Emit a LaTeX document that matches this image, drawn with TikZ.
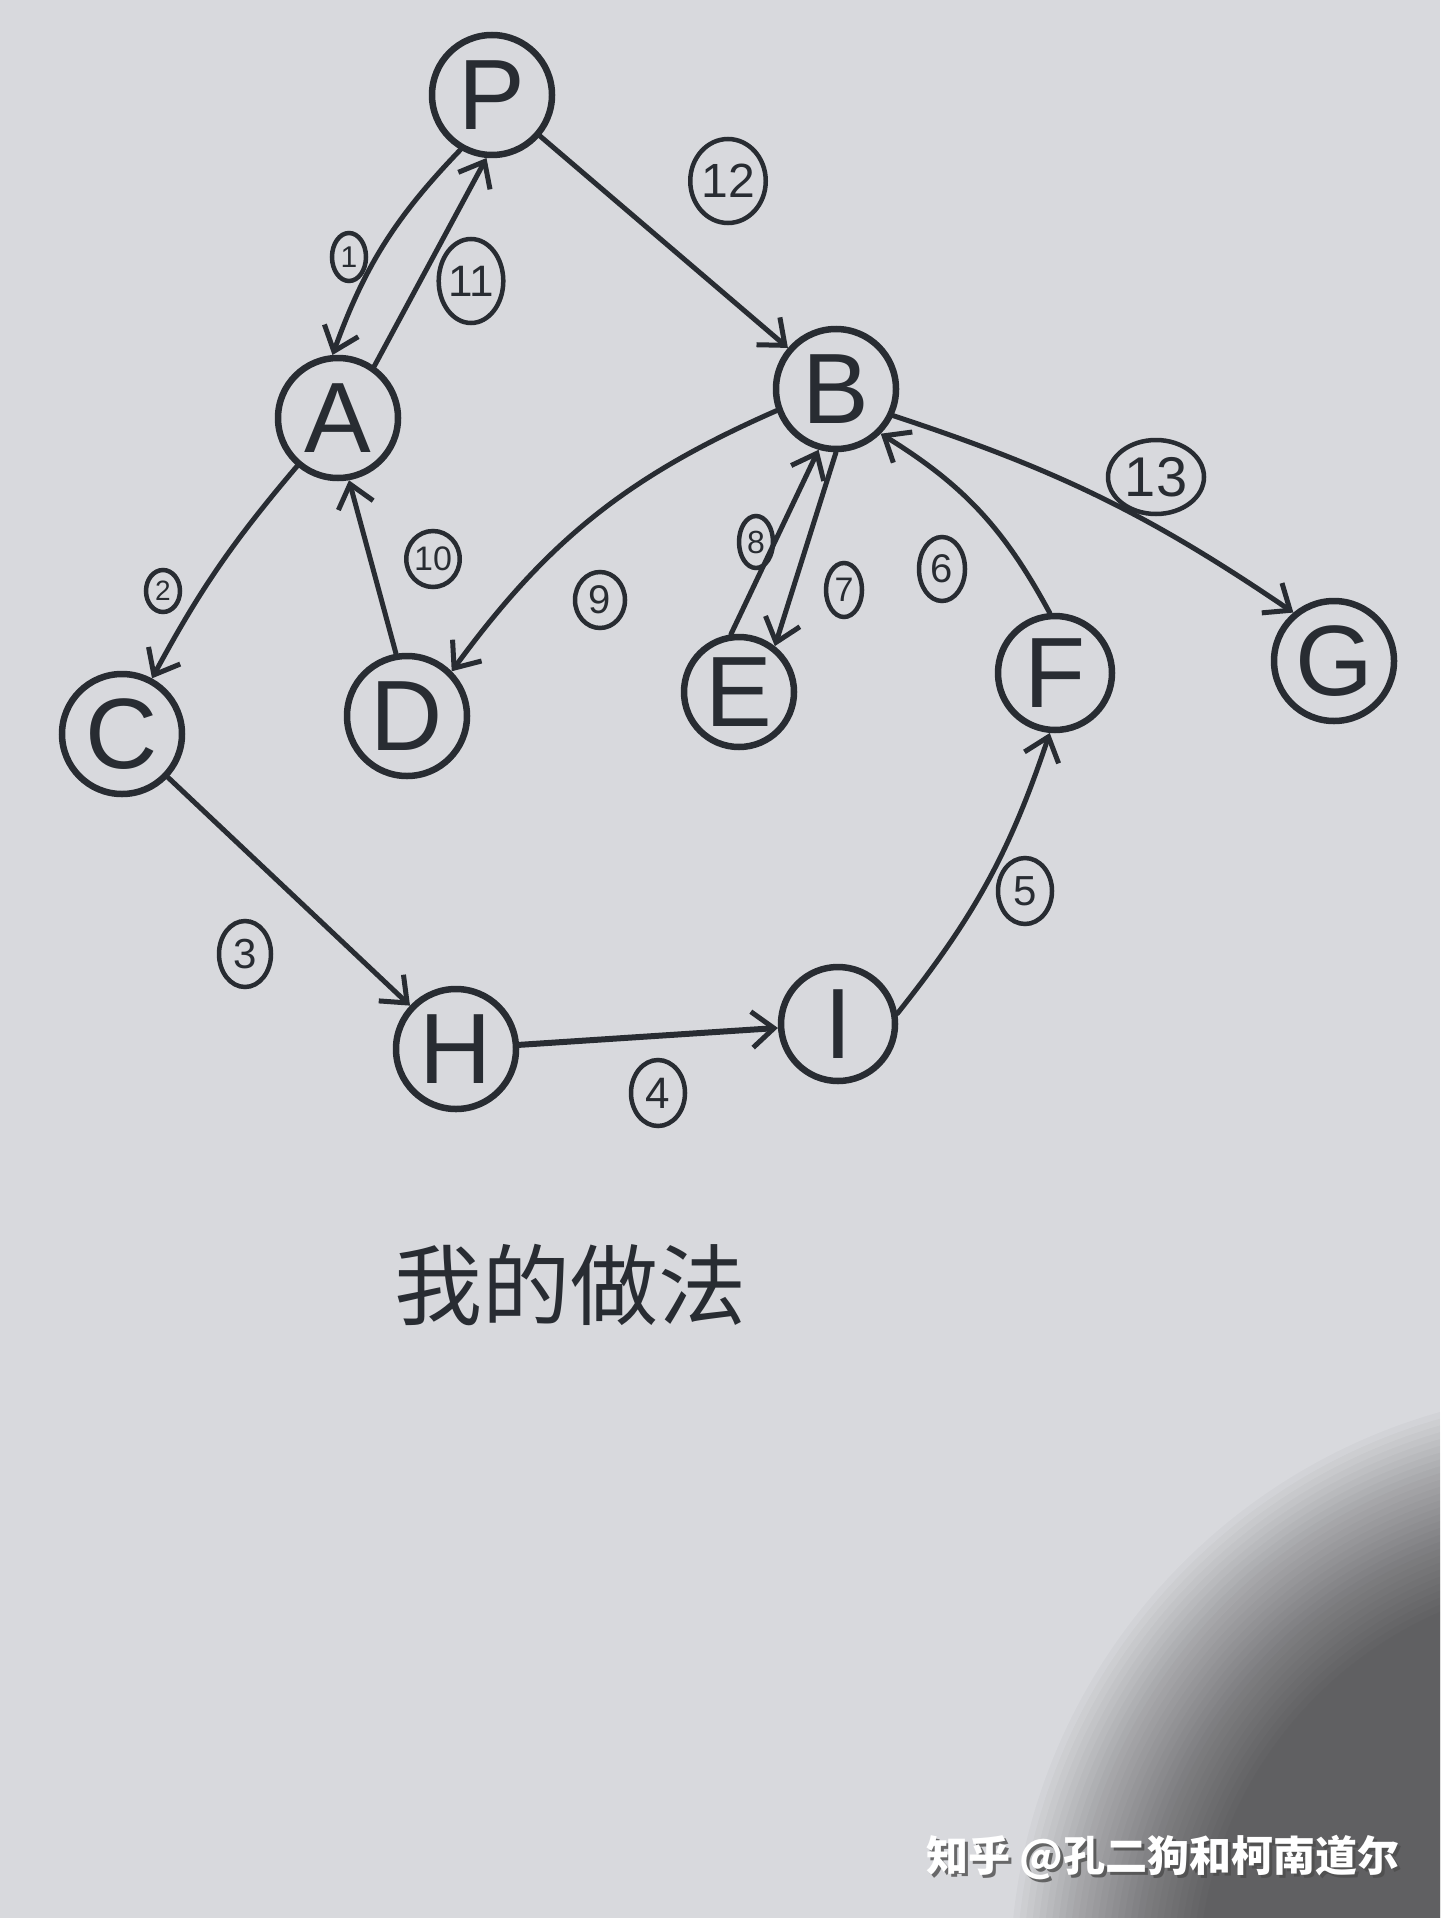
\documentclass[tikz,border=0pt]{standalone}
\usepackage{fontspec}
\setmainfont{Liberation Sans}
\newfontfamily\cjk{Noto Sans CJK SC}
\usetikzlibrary{arrows.meta,shapes.geometric}
\definecolor{ink}{RGB}{40,44,50}
\definecolor{paper}{RGB}{216,217,221}
\tikzset{
  vtx/.style={circle, draw=ink, line width=6.5pt, minimum size=120pt, inner sep=0pt,
    text=ink, font=\fontsize{100}{100}\selectfont},
  num/.style={ellipse, draw=ink, line width=4.5pt, inner sep=0pt, text=ink},
  link/.style={draw=ink, line width=5pt, line cap=round,
    -{Straight Barb[length=22pt,width=36pt,line width=5pt]}},
}
\begin{document}
\begin{tikzpicture}[x=1pt,y=-1pt]
\useasboundingbox (0,0) rectangle (1440,1918);
\fill[paper] (0,0) rectangle (1440,1918);
\begin{scope}
  \clip (0,0) rectangle (1440,1918);
  \foreach \i in {0,...,29}
    \fill[black,opacity=0.022] (1600,1980) circle [radius={590-6.5*\i}];
\end{scope}

% vertices
\node[vtx] (P) at (492,95) {P};
\node[vtx] (A) at (338,418) {A};
\node[vtx] (B) at (836,389) {B};
\node[vtx] (C) at (122,734) {C};
\node[vtx] (D) at (407,716) {D};
\node[vtx, minimum size=110pt] (E) at (739,692) {E};
\node[vtx, minimum size=114pt] (F) at (1055,673) {F};
\node[vtx] (G) at (1334,661) {G};
\node[vtx] (H) at (456,1049) {H};
\node[vtx, minimum size=114pt] (I) at (838,1024) {I};

% edges
\draw[link] (P.-120) to[bend right=12] (A.95);
\draw[link] (A.55) -- (P.-95);
\draw[link] (P) -- (B);
\draw[link] (A) to[bend right=6] (C);
\draw[link] (C) -- (H);
\draw[link, line width=6pt] (H) -- (I);
\draw[link] (I.10) to[bend right=10] (F.-95);
\draw[link] (F.95) to[bend right=15] (B.-45);
\draw[link] (B.-90) -- (E.52);
\draw[link] (E.98) -- (B.-106);
\draw[link] (B.200) to[bend right=15] (D.45);
\draw[link] (D.100) -- (A.-80);
\draw[link] (B.-25) to[bend left=8] (G.130);

% step labels
\node[num, minimum width=34pt, minimum height=48pt, font=\fontsize{30}{30}\selectfont] (n1) at (349,257) {1};
\node[num, minimum width=56pt, minimum height=84pt, font=\fontsize{44}{44}\selectfont] (n11) at (471,281) {11};
\node[num, minimum width=74pt, minimum height=84pt, font=\fontsize{48}{48}\selectfont] (n12) at (728,181) {12};
\node[num, minimum width=34pt, minimum height=42pt, font=\fontsize{28}{28}\selectfont] (n2) at (163,591) {2};
\node[num, minimum width=48pt, minimum height=56pt, font=\fontsize{34}{34}\selectfont] (n10) at (433,559) {10};
\node[num, minimum width=50pt, minimum height=56pt, font=\fontsize{40}{40}\selectfont] (n9) at (600,600) {9};
\node[num, minimum width=34pt, minimum height=52pt, font=\fontsize{32}{32}\selectfont] (n8) at (756,542) {8};
\node[num, minimum width=36pt, minimum height=54pt, font=\fontsize{34}{34}\selectfont] (n7) at (844,590) {7};
\node[num, minimum width=46pt, minimum height=64pt, font=\fontsize{40}{40}\selectfont] (n6) at (942,569) {6};
\node[num, minimum width=96pt, minimum height=74pt, font=\fontsize{56}{56}\selectfont] (n13) at (1156,477) {13};
\node[num, minimum width=52pt, minimum height=66pt, font=\fontsize{42}{42}\selectfont] (n3) at (245,954) {3};
\node[num, minimum width=54pt, minimum height=66pt, font=\fontsize{44}{44}\selectfont] (n4) at (658,1093) {4};
\node[num, minimum width=54pt, minimum height=66pt, font=\fontsize{42}{42}\selectfont] (n5) at (1025,891) {5};

% caption
\node[text=ink, font=\cjk\fontsize{88}{88}\selectfont] (cap) at (570,1285) {我的做法};

% watermark
\node[text=black!70, opacity=0.8, font=\cjk\bfseries\fontsize{42}{42}\selectfont] (wms) at (1166,1860) {知乎 @孔二狗和柯南道尔};
\node[text=white, font=\cjk\bfseries\fontsize{42}{42}\selectfont] (wm) at (1163,1857) {知乎 @孔二狗和柯南道尔};
\end{tikzpicture}
\end{document}
